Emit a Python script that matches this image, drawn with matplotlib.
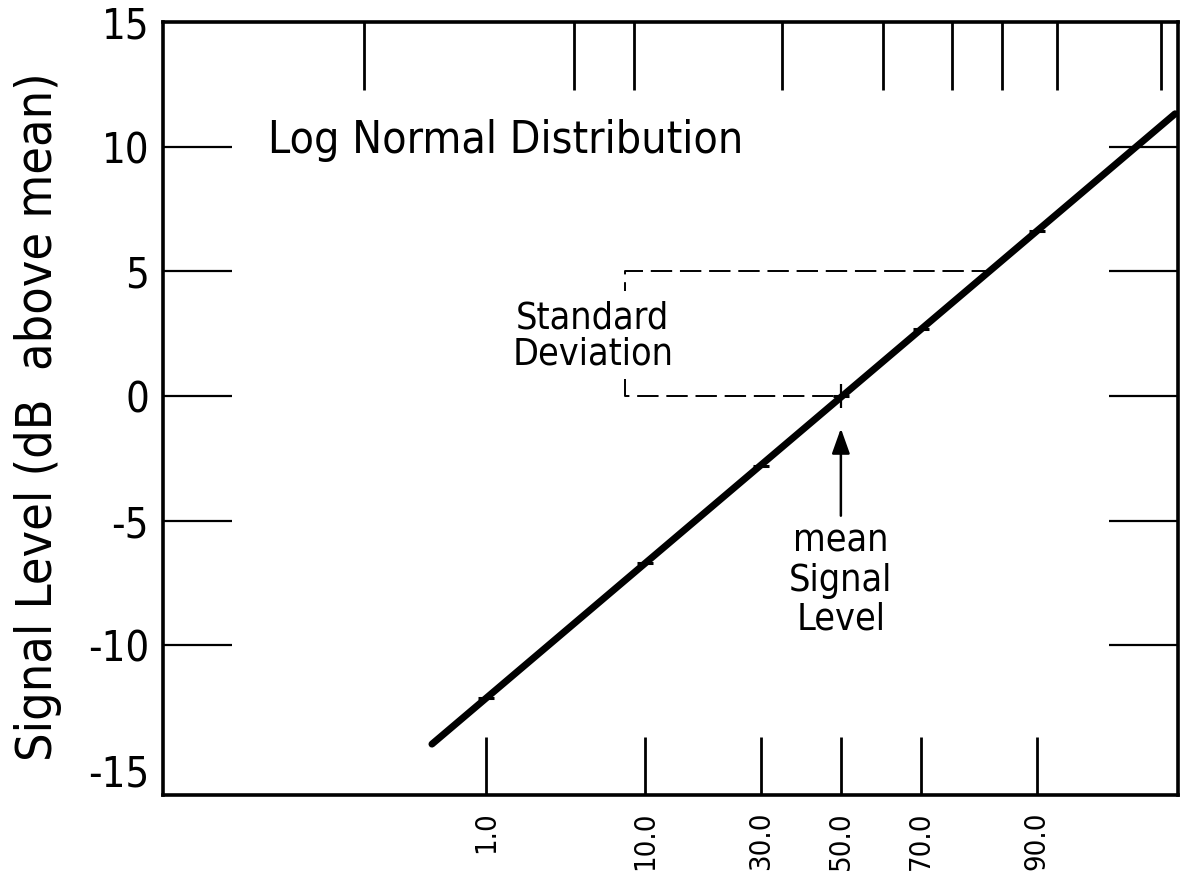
import numpy as np
import matplotlib
matplotlib.use("Agg")
import matplotlib.pyplot as plt
from statistics import NormalDist

plt.rcParams['font.family'] = ['DejaVu Sans']
plt.rcParams['font.stretch'] = 'condensed'

ND = NormalDist()

# cumulative percent vs signal level (dB above mean)
point_pct = [1.0, 10.0, 30.0, 50.0, 70.0, 90.0]
point_db = [-12.1, -6.7, -2.8, 0.0, 2.7, 6.6]
line_pct = [0.37, 98.57]
line_db = [-13.96, 11.32]

xtick_pct = [1.0, 10.0, 30.0, 50.0, 70.0, 90.0]
xtick_labels = ['1.0', '10.0', '30.0', '50.0', '70.0', '90.0']
top_tick_pct = [0.09, 4.0, 8.8, 35.0, 60.9, 76.7, 85.4, 92.2, 98.2]
ytick_vals = [-15, -10, -5, 0, 5, 10, 15]

mean_pct = 50.0
sd_db = 5.0
sd_pct = 84.1
bracket_pct = 7.9


def pct_to_z(p):
    p = np.clip(np.asarray(p, dtype=float) / 100.0, 1e-12, 1 - 1e-12)
    return np.vectorize(ND.inv_cdf, otypes=[float])(p)


def z_to_pct(z):
    z = np.asarray(z, dtype=float)
    return 100.0 * np.vectorize(ND.cdf, otypes=[float])(z)


fig = plt.figure(figsize=(11.8, 8.84), dpi=100)
ax = fig.add_axes([0.1381, 0.1007, 0.8602, 0.8744])
ax.set_xscale('function', functions=(pct_to_z, z_to_pct))
ax.set_xlim(float(z_to_pct(-4.44)), float(z_to_pct(2.208)))
ax.set_ylim(-16, 15)

# probability line and marked points
ax.plot(line_pct, line_db, color='black', lw=5, solid_capstyle='round', zorder=3)
ax.plot(point_pct, point_db, ls='none', marker='_', ms=11, mew=2.2, color='black', zorder=4)
ax.plot([mean_pct], [0], ls='none', marker='|', ms=17, mew=1.6, color='black', zorder=4)

# standard deviation bracket
dash = dict(color='black', lw=1.4, dashes=(11, 4))
ax.plot([sd_pct, bracket_pct, bracket_pct], [sd_db, sd_db, 4.2], **dash)
ax.plot([bracket_pct, bracket_pct, mean_pct], [0.7, 0, 0], **dash)
ax.text(5.2, 2.4, 'Standard\nDeviation', ha='center', va='center',
        fontsize=27, linespacing=1.0)

# mean arrow
ax.annotate('', xy=(mean_pct, -1.3), xytext=(mean_pct, -4.8),
            arrowprops=dict(arrowstyle='-|>,head_length=0.7,head_width=0.25',
                            lw=1.8, color='black', mutation_scale=22,
                            shrinkA=0, shrinkB=0))
ax.text(mean_pct, -7.4, 'mean\nSignal\nLevel', ha='center', va='center',
        fontsize=27, linespacing=1.1)

ax.text(0.1034, 0.847, 'Log Normal Distribution', transform=ax.transAxes,
        ha='left', va='center', fontsize=32)

# axes styling
for side in ['left', 'bottom', 'top', 'right']:
    ax.spines[side].set_linewidth(2.6)

ax.set_yticks(ytick_vals)
ax.set_yticklabels([str(v) for v in ytick_vals])
ax.tick_params(axis='y', which='major', direction='in', length=50, width=1.6,
               left=True, right=True, labelsize=30, pad=10)
for t in ax.yaxis.get_major_ticks():
    if abs(t.get_loc()) == 15:
        t.tick1line.set_visible(False)
        t.tick2line.set_visible(False)

ax.set_xticks(xtick_pct)
ax.set_xticklabels(xtick_labels, rotation=90)
ax.set_xticks(top_tick_pct, minor=True)
ax.xaxis.set_minor_formatter(plt.NullFormatter())
ax.tick_params(axis='x', which='major', direction='in', length=42, width=2,
               bottom=True, top=False, labelsize=21, pad=12)
ax.tick_params(axis='x', which='minor', direction='in', length=49, width=2,
               bottom=False, top=True)

ax.set_ylabel('Signal Level (dB  above mean)', fontsize=36, va='center')
ax.yaxis.set_label_coords(-0.123, 0.49)

fig.savefig('out.png', dpi=100)
